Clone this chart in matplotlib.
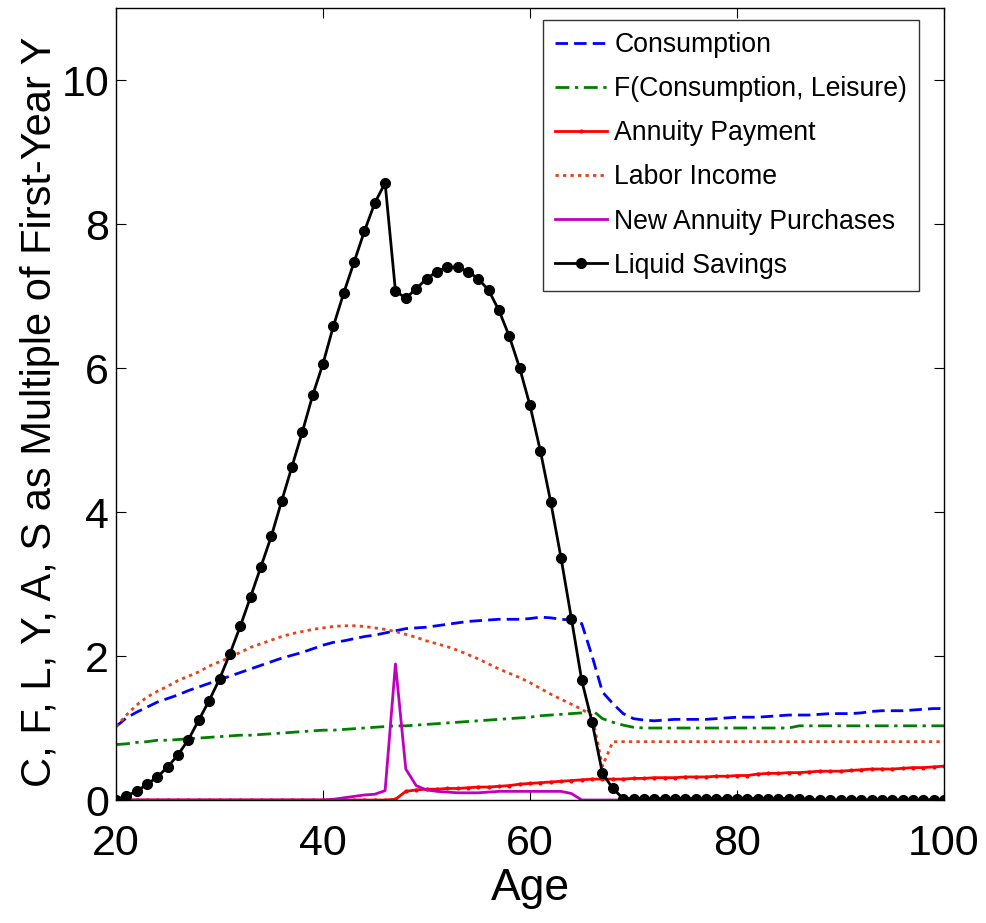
import matplotlib
matplotlib.use("Agg")
import matplotlib.pyplot as plt
from matplotlib import font_manager

plt.rcParams['font.family'] = ['Liberation Sans', 'DejaVu Sans']

narrow_name = None
for f in font_manager.fontManager.ttflist:
    if f.name == "Liberation Sans Narrow":
        narrow_name = f.name
        break

ages = list(range(20, 101))

consumption = [1.02, 1.14, 1.22, 1.29, 1.36, 1.41, 1.46, 1.52, 1.57, 1.62,
               1.67, 1.72, 1.77, 1.82, 1.87, 1.92, 1.97, 2.01, 2.05, 2.10,
               2.15, 2.19, 2.21, 2.24, 2.27, 2.29, 2.32, 2.35, 2.38, 2.39,
               2.40, 2.42, 2.44, 2.46, 2.48, 2.49, 2.50, 2.51, 2.51, 2.51,
               2.52, 2.54, 2.53, 2.51, 2.50, 2.45, 2.00, 1.50, 1.34, 1.20,
               1.13, 1.11, 1.10, 1.11, 1.12, 1.12, 1.12, 1.12, 1.13, 1.14,
               1.15, 1.15, 1.15, 1.16, 1.17, 1.18, 1.18, 1.18, 1.19, 1.20,
               1.20, 1.20, 1.21, 1.23, 1.24, 1.24, 1.24, 1.25, 1.26, 1.27,
               1.27]

f_cons_leisure = [0.77, 0.78, 0.80, 0.81, 0.83, 0.83, 0.84, 0.85, 0.86, 0.87,
                  0.88, 0.89, 0.90, 0.90, 0.91, 0.92, 0.93, 0.94, 0.95, 0.96,
                  0.97, 0.97, 0.98, 0.99, 1.00, 1.01, 1.02, 1.03, 1.03, 1.04,
                  1.05, 1.06, 1.07, 1.08, 1.09, 1.10, 1.11, 1.12, 1.13, 1.14,
                  1.15, 1.17, 1.18, 1.19, 1.20, 1.21, 1.25, 1.13, 1.08, 1.04,
                  1.01, 1.00, 1.00, 1.00, 1.00, 1.00, 1.00, 1.00, 1.00, 1.00,
                  1.00, 1.00, 1.00, 1.00, 1.00, 1.00, 1.03, 1.03, 1.03, 1.03,
                  1.03, 1.03, 1.03, 1.03, 1.03, 1.03, 1.03, 1.03, 1.03, 1.03,
                  1.03]

annuity_payment = [0.0] * 27 + [
                   0.01, 0.12, 0.14, 0.15, 0.15, 0.16, 0.16, 0.17, 0.18, 0.18,
                   0.19, 0.20, 0.22, 0.23, 0.24, 0.25, 0.26, 0.27, 0.28, 0.29,
                   0.29, 0.29, 0.29, 0.30, 0.30, 0.31, 0.31, 0.31, 0.32, 0.32,
                   0.32, 0.33, 0.33, 0.34, 0.34, 0.36, 0.37, 0.37, 0.38, 0.38,
                   0.39, 0.40, 0.40, 0.40, 0.41, 0.42, 0.43, 0.43, 0.43, 0.44,
                   0.45, 0.45, 0.46, 0.47]

labor_income = [1.02, 1.18, 1.32, 1.43, 1.51, 1.58, 1.66, 1.72, 1.78, 1.86,
                1.92, 1.98, 2.05, 2.12, 2.17, 2.22, 2.27, 2.31, 2.34, 2.37,
                2.39, 2.41, 2.42, 2.42, 2.41, 2.39, 2.37, 2.34, 2.30, 2.26,
                2.21, 2.17, 2.13, 2.08, 2.02, 1.96, 1.89, 1.82, 1.76, 1.70,
                1.63, 1.55, 1.47, 1.40, 1.33, 1.26, 1.17, 0.47] + [0.81] * 33

new_annuity = [0.0] * 21 + [
               0.01, 0.03, 0.05, 0.07, 0.08, 0.13, 1.89, 0.43, 0.20, 0.14,
               0.12, 0.11, 0.10, 0.10, 0.10, 0.11, 0.12, 0.12, 0.12, 0.12,
               0.12, 0.12, 0.12, 0.09, 0.0] + [0.0] * 35

liquid_savings = [0.00, 0.06, 0.12, 0.22, 0.32, 0.46, 0.63, 0.84, 1.11, 1.38,
                  1.68, 2.03, 2.41, 2.82, 3.24, 3.66, 4.15, 4.63, 5.11, 5.62,
                  6.06, 6.58, 7.04, 7.47, 7.90, 8.29, 8.57, 7.07, 6.97, 7.10,
                  7.24, 7.34, 7.40, 7.40, 7.34, 7.24, 7.08, 6.80, 6.44, 6.00,
                  5.48, 4.85, 4.14, 3.36, 2.52, 1.66, 1.08, 0.37, 0.16, 0.02] + \
                 [0.02] * 17 + [0.0] * 14

labels = ["Consumption", "F(Consumption, Leisure)", "Annuity Payment",
          "Labor Income", "New Annuity Purchases", "Liquid Savings"]

xticks = [20, 40, 60, 80, 100]
yticks = [0, 2, 4, 6, 8, 10]

if narrow_name:
    tick_fam, tick_size, leg_size = [narrow_name, 'DejaVu Sans'], 36, 23.2
else:
    tick_fam, tick_size, leg_size = ['Liberation Sans', 'DejaVu Sans'], 31, 19.2

fig = plt.figure(figsize=(9.87, 9.23), dpi=100)
ax = fig.add_axes([116/987, 1-800/923, (944-116)/987, (800-8)/923])

lw = 2.0
ax.plot(ages, consumption, color='#0000ff', ls=(0, (4.5, 2.2)), lw=lw, label=labels[0])
ax.plot(ages, f_cons_leisure, color='#008000', ls=(0, (5, 2, 1.2, 2)), lw=lw, label=labels[1])
ax.plot(ages, annuity_payment, color='#ff0000', ls='-', lw=lw, marker='.', markersize=4, label=labels[2])
ax.plot(ages, labor_income, color='#e8421c', ls=(0, (1.2, 1.5)), lw=lw, label=labels[3])
ax.plot(ages, new_annuity, color='#bf00bf', ls='-', lw=lw, label=labels[4])
ax.plot(ages, liquid_savings, color='black', ls='-', lw=lw, marker='o', markersize=7,
        markerfacecolor='black', label=labels[5])

ax.set_xlim(20, 100)
ax.set_ylim(0, 11)
ax.set_xticks(xticks)
ax.set_yticks(yticks)
ax.tick_params(direction='in', length=7, width=0.8, top=True, right=True)
ax.tick_params(axis='x', pad=17)
ax.tick_params(axis='y', pad=5)
for lab in ax.get_xticklabels() + ax.get_yticklabels():
    lab.set_family(tick_fam)
    lab.set_fontsize(tick_size)
for s in ax.spines.values():
    s.set_linewidth(1.0)

ax.set_xlabel("Age", fontsize=32, labelpad=3)
ax.set_ylabel("C, F, L, Y, A, S as Multiple of First-Year Y", fontsize=30)
ax.yaxis.set_label_coords(-0.068, 0.49)

leg = ax.legend(loc='upper left', bbox_to_anchor=(543/987, 1-20/923),
                bbox_transform=fig.transFigure, borderaxespad=0,
                prop={'family': tick_fam, 'size': leg_size},
                frameon=True, fancybox=False, edgecolor='black',
                handlelength=1.95, handletextpad=0.28, labelspacing=0.68,
                borderpad=0.45)
leg.get_frame().set_linewidth(1.0)

fig.savefig("out.png", dpi=100)
